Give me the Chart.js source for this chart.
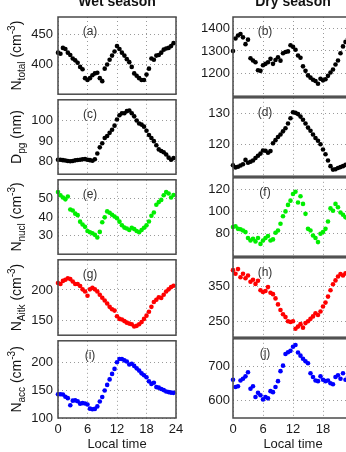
<!DOCTYPE html>
<html><head><meta charset="utf-8">
<script src="https://cdn.jsdelivr.net/npm/chart.js@4.4.0/dist/chart.umd.min.js"></script>
<style>
html,body{margin:0;padding:0;background:#fff;width:346px;height:452px;overflow:hidden;position:relative}
canvas{position:absolute}
</style></head><body>
<script>
// ---------- data ----------
const HOURS = [0,0.5,1,1.5,2,2.5,3,3.5,4,4.5,5,5.5,6,6.5,7,7.5,8,8.5,9,9.5,10,10.5,11,11.5,
               12,12.5,13,13.5,14,14.5,15,15.5,16,16.5,17,17.5,18,18.5,19,19.5,20,20.5,21,21.5,22,22.5,23,23.5];
const X_TICKS = [0,6,12,18,24];
const COLUMN_TITLES = ['Wet season','Dry season'];
const X_TITLE = 'Local time';

const WET_NTOTAL = [420,418,428,426,420,416,410,407,403,396,392,377,374,377,382,385,386,377,372,393,400,408,415,422,
                    431,426,420,415,409,404,396,385,381,377,374,374,383,393,410,408,415,416,420,425,427,428,431,436];
const DRY_NTOTAL = [1300,1355,1368,1375,1360,1330,1350,1268,1258,1250,1215,1212,1237,1243,1250,1265,1243,1260,1272,1257,1290,1295,1298,1325,
                    1318,1305,1280,1270,1232,1212,1192,1182,1173,1167,1155,1177,1170,1175,1190,1205,1218,1240,1258,1290,1320,1340,1355,1365];
const WET_DPG = [81,81,80.8,80.6,80.4,80.3,80.4,80.7,80.9,81,81.2,81.3,81,80.8,80.5,81.2,84,87,89,91.5,92.5,94,95.5,97.5,
                 100.5,102.5,103.5,103.5,104.5,104.8,103.5,102,100,98.5,98,97,95,93,91.5,90,88,86,85.2,84.6,83.5,82,81,81.8];
const DRY_DPG = [113.5,112.8,113,113.4,113.8,115.2,114.3,114.6,115,115.8,116.5,117.2,118.2,118.1,117.5,118,120.5,121.5,122.5,123.3,124.3,125.3,126.8,128.5,
                 130.4,130.2,129.8,129,128,126.8,125.5,124.5,123.3,122.2,121.3,120.2,118.5,117,115,113.2,112.1,112.2,112.6,112.9,113.2,113.6,114,114.3];
const WET_NNUCL = [53.4,51.7,50.5,49.5,51,44,43.5,41.8,41,37.5,36,34.7,32.5,31.8,31.3,30.4,29,32,37.2,39.8,43,42.3,41.2,40.3,
                   39.3,37.5,35.6,34.3,33.8,33,34.2,33.5,32.5,31.8,33,34.2,35.5,37.6,40.7,42.4,46.6,48,49.2,51.7,53.4,52.6,50.5,51.8];
const DRY_NNUCL = [86,86.8,84.4,84,83,81.5,76.2,74,75.6,73.2,76.2,71,74,76.2,78,74,75,81,83,89,95.7,100,105.8,109.6,
                   115.6,117.6,108,113.5,106.7,97.8,84.4,83,78.5,76.2,72.6,80,81.5,84.4,91,102.7,100.6,106.7,103.7,99,97,94.8,93,92];
const WET_NAITK = [211.6,210,215,217,219.5,218,214,210,210,206.5,201,197.5,190.5,201,203.5,201,197.5,192,187,182.5,177.5,172,168,165.8,
                   156.3,152,151,148.4,145.8,144.2,143.2,139.5,140.5,143.2,146.8,152,157.4,164,172,180,183.7,188,186.8,192,197.4,201,204.7,207];
const DRY_NAITK = [395,385,398,375,385,372,380,362,368,356,365,338,333,336,347,331,327,315,298,282,270,262,250,248,
                   250,229,235,242,232,245,250,257,264,273,268,278,292,303,320,338,355,366,377,384,380,386,390,392];
const WET_NACC = [143,143,142.5,138.5,136,123,131.5,132,130.5,126,127,126.3,124.5,117,116,116.5,121,130,138,150,160,170,180,189,
                  201,207,207,204.5,202.5,197,198.5,194.5,190,186,181,177.5,174,166.5,161.8,164,156,155,152.5,150.6,148,147,146,145.6];
const DRY_NACC = [661,640,642,659,664,671,683,635,642,611,623,616,604,611,607,628,625,640,657,686,702,736,741,745,
                  757,762,740,731,722,715,709,680,669,659,657,671,661,657,659,651,648,669,674,664,680,661,670,665];

// axis ranges and tick labels
const RANGE_WET_NTOTAL = [350,480], TICKS_WET_NTOTAL = [400,450];
const RANGE_DRY_NTOTAL = [1100,1450], TICKS_DRY_NTOTAL = [1200,1300,1400];
const RANGE_WET_DPG = [74,110], TICKS_WET_DPG = [80,90,100];
const RANGE_DRY_DPG = [110,135], TICKS_DRY_DPG = [120,130];
const RANGE_WET_NNUCL = [20,60], TICKS_WET_NNUCL = [30,40,50];
const RANGE_DRY_NNUCL = [60,130], TICKS_DRY_NNUCL = [80,100,120];
const RANGE_WET_NAITK = [125,250], TICKS_WET_NAITK = [150,200];
const RANGE_DRY_NAITK = [205,430], TICKS_DRY_NAITK = [250,350];
const RANGE_WET_NACC = [100,240], TICKS_WET_NACC = [100,150,200];
const RANGE_DRY_NACC = [550,780], TICKS_DRY_NACC = [600,700];

const PANEL_LETTERS = [['(a)','(b)'],['(c)','(d)'],['(e)','(f)'],['(g)','(h)'],['(i)','(j)']];
const ROW_COLORS = ['#000000','#000000','#00ee00','#ff0000','#0000ff'];
const Y_TITLES = [
  [['N','m'],['total','sub'],[' (cm','m'],['-3','sup'],[')','m']],
  [['D','m'],['pg','sub'],[' (nm)','m']],
  [['N','m'],['nucl','sub'],[' (cm','m'],['-3','sup'],[')','m']],
  [['N','m'],['Aitk','sub'],[' (cm','m'],['-3','sup'],[')','m']],
  [['N','m'],['acc','sub'],[' (cm','m'],['-3','sup'],[')','m']]
];

const ROWS = [
  [[WET_NTOTAL,RANGE_WET_NTOTAL,TICKS_WET_NTOTAL],[DRY_NTOTAL,RANGE_DRY_NTOTAL,TICKS_DRY_NTOTAL]],
  [[WET_DPG,RANGE_WET_DPG,TICKS_WET_DPG],[DRY_DPG,RANGE_DRY_DPG,TICKS_DRY_DPG]],
  [[WET_NNUCL,RANGE_WET_NNUCL,TICKS_WET_NNUCL],[DRY_NNUCL,RANGE_DRY_NNUCL,TICKS_DRY_NNUCL]],
  [[WET_NAITK,RANGE_WET_NAITK,TICKS_WET_NAITK],[DRY_NAITK,RANGE_DRY_NAITK,TICKS_DRY_NAITK]],
  [[WET_NACC,RANGE_WET_NACC,TICKS_WET_NACC],[DRY_NACC,RANGE_DRY_NACC,TICKS_DRY_NACC]]
];

// ---------- layout ----------
const FONT = '"Liberation Sans", Arial, Helvetica, sans-serif';
const COLS = [
  {left:0, width:195, plotLeft:58, plotRight:176, tickPad:5},
  {left:180, width:185, plotLeft:233, plotRight:353, tickPad:3}
];
const ROW_EDGES = [17, 97, 177, 257, 338, 418];
const PAGE_H = 452;

const panelPlugin = {
  id: 'panelDeco',
  afterDraw(chart) {
    const o = chart.options.plugins.panelDeco;
    const ctx = chart.ctx, a = chart.chartArea;
    ctx.save();
    ctx.strokeStyle = '#4a4a4a';
    ctx.lineWidth = 1.5;
    ctx.strokeRect(a.left, a.top, a.right - a.left, a.bottom - a.top);
    ctx.font = '12px ' + FONT;
    ctx.fillStyle = '#333';
    ctx.textAlign = 'center';
    ctx.textBaseline = 'middle';
    ctx.fillText(o.letter, a.left + 32, a.top + 15);
    if (o.colTitle) {
      ctx.font = 'bold 14px ' + FONT;
      ctx.fillStyle = '#111';
      ctx.textBaseline = 'alphabetic';
      ctx.fillText(o.colTitle, (a.left + a.right) / 2, 6 - o.canvasTop);
    }
    if (o.yTitle) {
      const fonts = {m: '14px ' + FONT, sub: '10px ' + FONT, sup: '10px ' + FONT};
      const shift = {m: 0, sub: 4, sup: -6};
      let total = 0; const w = [];
      o.yTitle.forEach(([t, s]) => { ctx.font = fonts[s]; const m = ctx.measureText(t).width; w.push(m); total += m; });
      ctx.translate(20.5, (a.top + a.bottom) / 2);
      ctx.rotate(-Math.PI / 2);
      ctx.textAlign = 'left';
      ctx.textBaseline = 'alphabetic';
      ctx.fillStyle = '#111';
      let x = -total / 2;
      o.yTitle.forEach(([t, s], i) => { ctx.font = fonts[s]; ctx.fillText(t, x, shift[s]); x += w[i]; });
    }
    ctx.restore();
  }
};

for (let r = 0; r < 5; r++) {
  for (let c = 0; c < 2; c++) {
    const col = COLS[c];
    const [vals, range, ticks] = ROWS[r][c];
    const isBottom = r === 4;
    const top = r === 0 ? 0 : ROW_EDGES[r] - 10;
    const height = isBottom ? PAGE_H - top : ROW_EDGES[r + 1] + 10 - top;
    const cv = document.createElement('canvas');
    cv.width = col.width; cv.height = height;
    cv.style.left = col.left + 'px'; cv.style.top = top + 'px';
    cv.style.width = col.width + 'px'; cv.style.height = height + 'px';
    document.body.appendChild(cv);
    const color = ROW_COLORS[r];
    new Chart(cv, {
      type: 'scatter',
      data: {datasets: [{
        data: HOURS.map((h, i) => ({x: h, y: vals[i]})),
        backgroundColor: color, borderColor: color,
        pointRadius: 2.3, pointBorderWidth: 0, pointHoverRadius: 2.3,
        showLine: false, clip: false
      }]},
      options: {
        responsive: false, animation: false, devicePixelRatio: 1,
        events: [],
        layout: {padding: {top: ROW_EDGES[r] - top, bottom: isBottom ? 0 : 10, left: 0,
                           right: col.left + col.width - col.plotRight}},
        plugins: {
          legend: {display: false}, tooltip: {enabled: false},
          panelDeco: {letter: PANEL_LETTERS[r][c], colTitle: r === 0 ? COLUMN_TITLES[c] : null,
                      yTitle: c === 0 ? Y_TITLES[r] : null, canvasTop: top}
        },
        scales: {
          x: {
            type: 'linear', min: 0, max: 24,
            afterBuildTicks: s => { s.ticks = X_TICKS.map(v => ({value: v})); },
            afterFit: s => { s.height = isBottom ? 34 : 0; },
            grid: {display: true, drawTicks: false, color: '#9a9a9a', lineWidth: 1},
            border: {display: false, dash: [1, 3]},
            ticks: {display: isBottom, padding: 4, maxRotation: 0, autoSkip: false,
                    callback: v => String(v),
                    font: {family: FONT, size: 13}, color: '#1a1a1a'},
            title: {display: isBottom, text: X_TITLE, font: {family: FONT, size: 13, lineHeight: 1.2},
                    color: '#1a1a1a', padding: {top: 0, bottom: 0}}
          },
          y: {
            type: 'linear', min: range[0], max: range[1],
            afterBuildTicks: s => { s.ticks = ticks.map(v => ({value: v})); },
            afterFit: s => { s.width = col.plotLeft - col.left; },
            grid: {display: true, drawTicks: false, color: '#9a9a9a', lineWidth: 1},
            border: {display: false, dash: [1, 3]},
            ticks: {padding: col.tickPad, callback: v => String(v),
                    font: {family: FONT, size: 13}, color: '#1a1a1a'}
          }
        }
      },
      plugins: [panelPlugin]
    });
  }
}
</script>
</body></html>
